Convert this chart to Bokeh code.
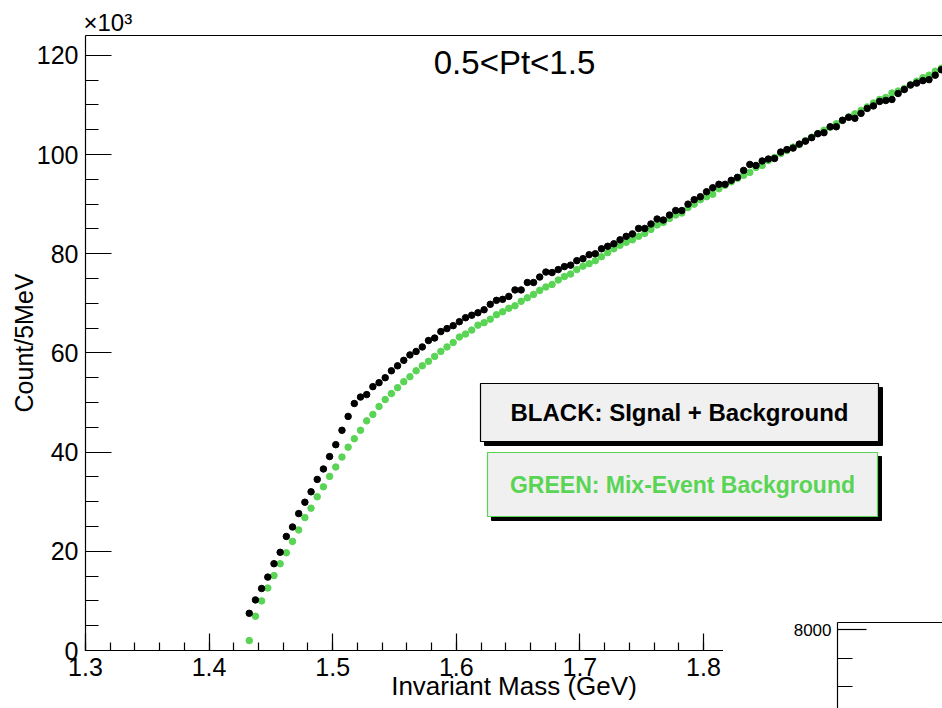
from bokeh.plotting import figure
from bokeh.models import (Range1d, SingleIntervalTicker, FixedTicker, LinearAxis,
                          BoxAnnotation, Label, PrintfTickFormatter, ColumnDataSource, Div)
from bokeh.layouts import column
from bokeh.embed import file_html
from bokeh.resources import INLINE

# ---------------- data (counts per 5 MeV bin, in units of 10^3) ----------------
mass_first_bin = 1.4325   # GeV, centre of first filled bin
bin_width = 0.005         # GeV
signal_plus_background = [
    7.5, 10.2, 12.5, 14.8, 17.5, 19.8, 23.0, 24.9, 27.6, 29.9, 32.0, 34.5, 36.6, 39.1,
    41.5, 44.4, 47.2, 49.8, 51.1, 51.6, 53.2, 54.0,
    55.0, 56.4, 57.4, 58.5, 59.6, 60.3, 61.2, 62.5, 63.0, 64.3, 64.9, 65.5, 66.3, 67.1,
    67.6, 68.1, 68.7, 69.8, 70.6, 70.8, 71.4, 72.7, 72.7, 74.2, 74.2, 75.3, 76.3, 76.2,
    76.8, 77.4, 77.7, 78.6, 79.0, 79.8, 80.0, 81.0, 81.5, 82.0, 82.8, 83.5,
    84.0, 85.1, 85.1, 86.0, 87.0, 86.8, 87.8, 88.7, 88.7, 90.0, 90.9, 91.5, 92.5, 93.3,
    94.0, 94.0, 94.8, 95.4, 96.8, 98.0, 97.8, 98.7, 99.1, 99.2, 100.5, 101.0, 101.3,
    102.1, 102.7, 103.4, 104.2, 104.4, 105.6, 105.6, 106.9, 107.5, 107.3, 108.3, 109.3,
    109.8, 110.7, 110.9, 111.1, 112.3, 113.1, 114.0, 114.4, 114.9, 115.1, 116.0, 117.1,
]
mix_event_background = [
    2.0, 6.9, 10.0, 12.6, 15.1, 17.5, 19.7, 22.0, 24.3, 26.8, 28.7, 31.0, 33.0, 35.1,
    37.0, 39.0, 41.0, 42.7, 44.4, 46.3, 47.6, 49.2, 50.6, 51.8, 53.0, 54.2,
    55.2, 56.4, 57.4, 58.3, 59.3, 60.3, 61.2, 62.1, 63.2, 63.8, 64.6, 65.6, 66.1, 66.8,
    67.7, 68.3, 69.0, 69.5, 70.4, 71.1, 71.8, 72.6, 73.3, 73.8, 74.7, 75.4, 75.9, 76.8,
    77.5, 78.0, 78.6, 79.4, 80.2, 81.0, 81.7, 82.3,
    82.8, 83.5, 84.1, 84.9, 85.8, 86.3, 87.1, 87.8, 88.2, 89.3, 90.0, 90.9, 91.5, 92.0,
    93.1, 93.8, 94.5, 95.2, 95.8, 96.4, 97.4, 97.8, 98.8, 99.4,
    100.2, 100.8, 101.5, 102.0, 102.8, 103.5, 104.2, 104.9, 105.5, 106.2, 106.9, 107.6,
    108.2, 108.9, 109.6, 110.4, 111.1, 111.5, 112.4, 112.8, 113.3, 114.1, 114.8, 115.5,
    116.0, 116.8, 117.4,
]
mass = [round(mass_first_bin + bin_width * i, 4) for i in range(len(signal_plus_background))]

title_text = "0.5<Pt<1.5"
x_title = "Invariant Mass (GeV)"
y_title = "Count/5MeV"
y_exponent = "\u00d710\u00b3"
legend_black = "BLACK: SIgnal + Background"
legend_green = "GREEN: Mix-Event Background"
inset_y_ticks = [6000, 8000]
inset_y_minor = [6500, 7000, 7500, 8500]

# ---------------- styling / layout ----------------
FONT = "Liberation Sans"
GREEN = "#59d454"
W, H = 942, 708
FL, FR, FT, FB = 85, 942, 35, 650
X0, X1 = 1.3, 1.9934
Y0, Y1 = 0.0, 124.0


def dx(px):
    return X0 + (px - FL) * (X1 - X0) / (FR - FL)


def dy(py):
    return Y0 + (FB - py) * (Y1 - Y0) / (FB - FT)


src = ColumnDataSource(dict(mass=mass, sb=signal_plus_background, mix=mix_event_background))

p = figure(width=W, height=H, x_range=Range1d(X0, X1), y_range=Range1d(Y0, Y1),
           output_backend="svg", toolbar_location=None,
           min_border_left=FL, min_border_right=W - FR, min_border_top=FT,
           min_border_bottom=H - FB, title=y_exponent)
p.background_fill_color = "white"
p.border_fill_color = "white"
p.outline_line_color = None
p.xgrid.visible = False
p.ygrid.visible = False

# the "x10^3" multiplier shown at the top left of the frame
p.title.align = "left"
p.title.text_font = FONT
p.title.text_font_size = "24px"
p.title.text_font_style = "normal"
p.title.text_color = "black"
p.title.standoff = 0
p.title.offset = -2

xa = p.xaxis[0]
xa.ticker = SingleIntervalTicker(interval=0.1, num_minor_ticks=5)
xa.formatter = PrintfTickFormatter(format="%.1f")
ya = p.yaxis[0]
ya.ticker = SingleIntervalTicker(interval=20, num_minor_ticks=4)

for ax in (xa, ya):
    ax.axis_line_color = "black"
    ax.axis_line_width = 1.2
    ax.major_tick_line_color = "black"
    ax.minor_tick_line_color = "black"
    ax.major_tick_line_width = 1.2
    ax.minor_tick_line_width = 1.2
    ax.major_tick_out = 0
    ax.minor_tick_out = 0
    ax.major_label_text_font = FONT
    ax.major_label_text_font_size = "25px"
    ax.major_label_text_color = "black"
    ax.axis_label_text_font = FONT
    ax.axis_label_text_font_style = "normal"
    ax.axis_label_text_color = "black"

xa.major_tick_in = 17
xa.minor_tick_in = 8
xa.major_label_standoff = 7
xa.axis_label = x_title
xa.axis_label_text_font_size = "26px"
xa.axis_label_standoff = -8

ya.major_tick_in = 26
ya.minor_tick_in = 13
ya.major_label_standoff = 7
ya.axis_label = y_title
ya.axis_label_text_font_size = "25px"
ya.axis_label_standoff = -4

top_axis = LinearAxis(ticker=FixedTicker(ticks=[]), axis_line_color="black",
                      axis_line_width=1.2, major_tick_line_color=None,
                      minor_tick_line_color=None)
p.add_layout(top_axis, "above")

p.scatter(x="mass", y="mix", source=src, size=6.5, marker="circle",
          fill_color=GREEN, line_color=GREEN)
p.scatter(x="mass", y="sb", source=src, size=6.5, marker="circle",
          fill_color="black", line_color="black")

# title inside the frame
p.add_layout(Label(x=dx(514), y=dy(62), text=title_text, text_align="center",
                   text_baseline="middle", text_font=FONT, text_font_size="33px",
                   text_color="black"))


# legend boxes (TPaveText style with shadow)
def pave(l, r, t, b, line_color, text, text_color, size):
    p.add_layout(BoxAnnotation(left=dx(l + 4), right=dx(r + 4), top=dy(t + 4), bottom=dy(b + 4),
                               fill_color="black", fill_alpha=1.0, line_color="black",
                               line_alpha=1.0))
    p.add_layout(BoxAnnotation(left=dx(l), right=dx(r), top=dy(t), bottom=dy(b),
                               fill_color="#f0f0f0", fill_alpha=1.0, line_color=line_color,
                               line_alpha=1.0, line_width=1.2))
    p.add_layout(Label(x=dx((l + r) / 2), y=dy((t + b) / 2), text=text, text_align="center",
                       text_baseline="middle", text_font=FONT, text_font_style="bold",
                       text_font_size=size, text_color=text_color))


pave(480, 878, 383, 441, "black", legend_black, "black", "24px")
pave(487, 877, 452, 516, GREEN, legend_green, GREEN, "23px")

# ---------------- inset pad (partly visible, lower right) ----------------
PAD_L, PAD_T = 718, 605           # white pad of the inset
IAX = 837                          # inset y-axis position
IL = IAX - FL                      # inset figure left (its left border equals FL)
IW, IH = W - IL, H - PAD_T
inset = figure(width=IW, height=IH, x_range=Range1d(0, 1), y_range=Range1d(6614, 8123),
               output_backend="svg", toolbar_location=None,
               min_border_left=FL, min_border_right=0, min_border_top=622 - PAD_T,
               min_border_bottom=0,
               styles={"position": "absolute", "left": f"{IL}px", "top": f"{PAD_T}px"})
inset.background_fill_color = "white"
inset.border_fill_color = "white"
inset.outline_line_color = None
inset.xgrid.visible = False
inset.ygrid.visible = False
inset.xaxis.visible = False
iy = inset.yaxis[0]
iy.ticker = FixedTicker(ticks=inset_y_ticks, minor_ticks=inset_y_minor)
iy.axis_line_color = "black"
iy.axis_line_width = 1.2
iy.major_tick_in = 29
iy.major_tick_out = 0
iy.minor_tick_in = 15
iy.minor_tick_out = 0
iy.major_tick_line_width = 1.2
iy.minor_tick_line_width = 1.2
iy.major_label_standoff = 6
iy.major_label_text_font = FONT
iy.major_label_text_font_size = "17px"
iy.major_label_text_color = "black"
inset.add_layout(LinearAxis(ticker=FixedTicker(ticks=[]), axis_line_color="black",
                            axis_line_width=1.2, major_tick_line_color=None,
                            minor_tick_line_color=None), "above")

pad_cover = Div(text="", width=IL - PAD_L, height=IH,
                styles={"position": "absolute", "left": f"{PAD_L}px", "top": f"{PAD_T}px",
                        "background-color": "white"})

root = column(p, pad_cover, inset)
open("out.html", "w").write(file_html(root, INLINE))
